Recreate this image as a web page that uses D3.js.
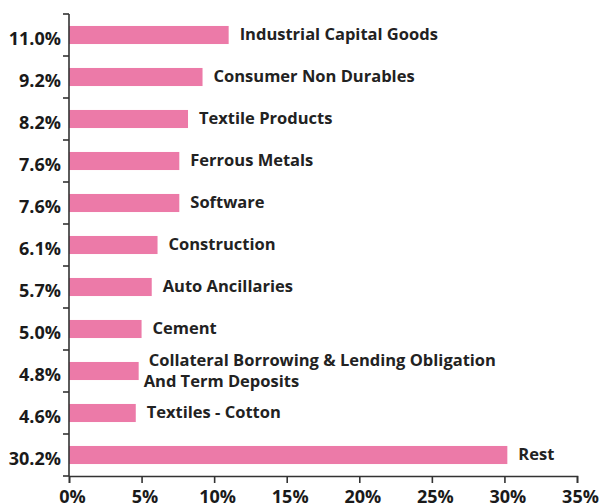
<!DOCTYPE html>
<html><head><meta charset="utf-8">
<script src="https://cdn.jsdelivr.net/npm/d3@7"></script>
<style>body{margin:0;background:#fff}</style>
</head><body>
<svg id="c" width="600" height="504"></svg>
<script>
const categories = ["Industrial Capital Goods","Consumer Non Durables","Textile Products","Ferrous Metals","Software","Construction","Auto Ancillaries","Cement","Collateral Borrowing & Lending Obligation\nAnd Term Deposits","Textiles - Cotton","Rest"];
const values = [11.0,9.2,8.2,7.6,7.6,6.1,5.7,5.0,4.8,4.6,30.2];
const valueLabels = ["11.0%","9.2%","8.2%","7.6%","7.6%","6.1%","5.7%","5.0%","4.8%","4.6%","30.2%"];
const xTicks = [0,5,10,15,20,25,30,35];

const svg = d3.select("#c");
const mLeft = 69, mRight = 577, mTop = 14, mBottom = 476;
const font = "'Open Sans', sans-serif";
const x = d3.scaleLinear().domain([0,35]).range([mLeft,mRight]);
const y = d3.scaleBand().domain(d3.range(categories.length)).range([mTop,mBottom]).paddingInner(0.57).paddingOuter(0.285);

svg.selectAll("rect.bar").data(values).join("rect").attr("class","bar")
  .attr("x", x(0)).attr("y",(d,i)=>y(i)).attr("height",y.bandwidth())
  .attr("width", d=>x(d)-x(0)).attr("fill","#EC7AA8");

// x axis
const xa = svg.append("g").attr("transform",`translate(0,${mBottom})`)
  .call(d3.axisBottom(x).tickValues(xTicks).tickFormat(d=>d+"%").tickSizeOuter(0).tickSize(7));
xa.select(".domain").attr("stroke","#333").attr("stroke-width",1.6);
xa.selectAll(".tick line").attr("stroke","#333").attr("stroke-width",1.6);
xa.selectAll(".tick text").attr("font-family",font).attr("font-weight","bold").attr("font-size",18).attr("fill","#1a1a1a")
  .attr("y",27).attr("dy",0).attr("dx",3);

// y axis with ticks between categories
const yEdge = d3.scaleLinear().domain([0,categories.length]).range([mTop,mBottom]);
svg.append("line").attr("x1",mLeft).attr("x2",mLeft).attr("y1",mTop).attr("y2",mBottom).attr("stroke","#333").attr("stroke-width",1.6);
svg.selectAll("line.yt").data(d3.range(categories.length+1)).join("line").attr("class","yt")
  .attr("x1",mLeft-6).attr("x2",mLeft).attr("y1",d=>yEdge(d)).attr("y2",d=>yEdge(d)).attr("stroke","#333").attr("stroke-width",1.6);
svg.selectAll("text.yl").data(valueLabels).join("text").attr("class","yl")
  .attr("x",mLeft-8).attr("y",(d,i)=>y(i)+y.bandwidth()/2 + 10)
  .attr("text-anchor","end").attr("font-family",font).attr("font-weight","bold").attr("font-size",18).attr("fill","#1a1a1a")
  .text(d=>d);

// category labels
const cl = svg.selectAll("text.cl").data(categories).join("text").attr("class","cl")
  .attr("font-family",font).attr("font-weight","bold").attr("font-size",16.5).attr("fill","#222");
cl.each(function(d,i){
  const lines = d.split("\n");
  const t = d3.select(this);
  const cy = y(i)+y.bandwidth()/2;
  const lh = 21;
  lines.forEach((s,k)=>{
    t.append("tspan").attr("x", x(values[i]) + (lines.length>1 ? (k===0?10:5) : 11))
     .attr("y", cy + (k-(lines.length-1)/2)*lh + 5).text(s);
  });
});
</script>
</body></html>
